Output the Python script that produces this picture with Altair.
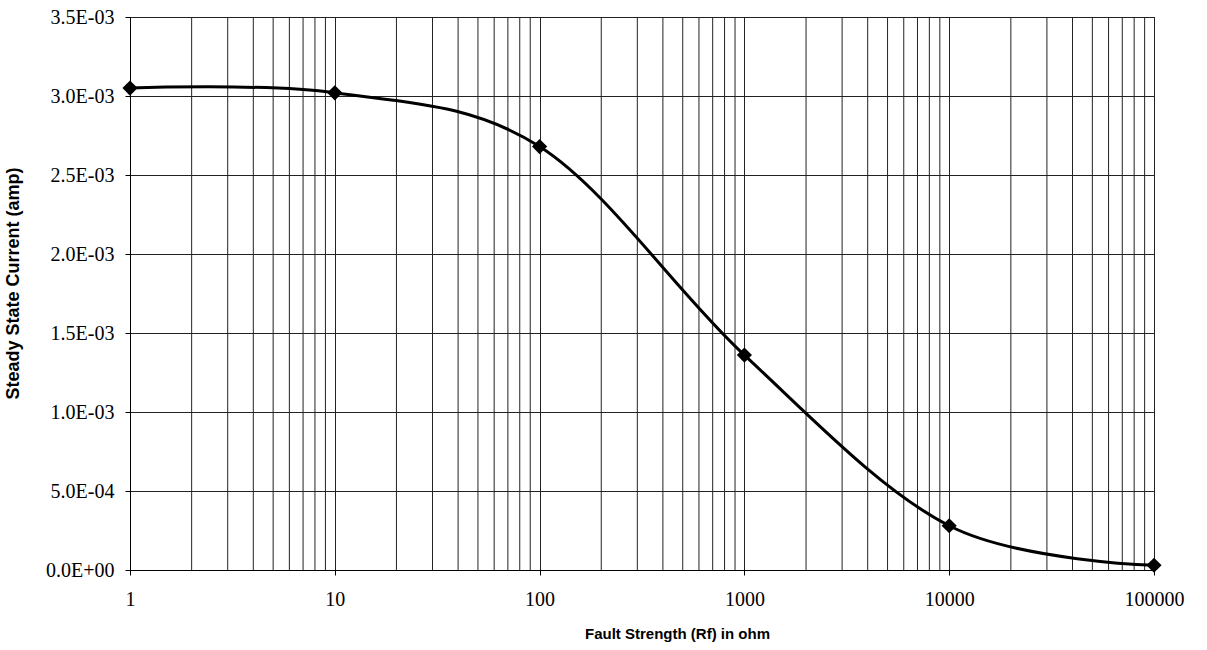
import altair as alt
import pandas as pd

# Steady-state current versus fault resistance
resistance_ohm = [1, 10, 100, 1000, 10000, 100000]
current_amp = [3.05e-3, 3.02e-3, 2.68e-3, 1.36e-3, 0.28e-3, 0.03e-3]

# Axis ticks
x_decades = [1, 10, 100, 1000, 10000, 100000]
y_ticks = [0, 0.0005, 0.001, 0.0015, 0.002, 0.0025, 0.003, 0.0035]
minor_multipliers = [2, 3, 4, 5, 6, 7, 8, 9]
minor_x = [m * d for d in x_decades[:-1] for m in minor_multipliers]

W, H = 1024, 553
GRID = "#222222"

df = pd.DataFrame({"rf": resistance_ohm, "current": current_amp})
minor_df = pd.DataFrame({"rf": minor_x})

x_scale = alt.Scale(type="log", domain=[1, 100000], nice=False)
y_scale = alt.Scale(domain=[0, 0.0035], nice=False)

# Labels in 0.0E+00 notation
exp_expr = "floor(log(datum.value) / LN10 + 1e-9)"
y_label_expr = (
    "datum.value == 0 ? '0.0E+00' : "
    f"format(datum.value / pow(10, {exp_expr}), '.1f') + 'E-' + format(-{exp_expr}, '02d')"
)

x_axis = alt.Axis(
    values=x_decades, format="d", grid=True, gridColor=GRID, gridWidth=1, gridOpacity=1,
    domainColor="black", tickColor="black", tickSize=5, labelFlush=False, labelOverlap=False,
    labelFont="Liberation Serif", labelFontSize=20, labelColor="black", labelPadding=14,
    title="Fault Strength (Rf) in ohm", titleFont="Liberation Sans", titleFontSize=15,
    titleFontWeight="bold", titleColor="black", titleX=547, titleY=68,
    titleAlign="center", titleBaseline="alphabetic",
)
y_axis = alt.Axis(
    values=y_ticks, labelExpr=y_label_expr, grid=True, gridColor=GRID, gridWidth=1, gridOpacity=1,
    domainColor="black", tickColor="black", tickSize=5,
    labelFont="Liberation Serif", labelFontSize=20, labelColor="black", labelPadding=11,
    title="Steady State Current (amp)", titleFont="Liberation Sans", titleFontSize=18,
    titleFontWeight="bold", titleColor="black", titleAngle=270, titleX=-117, titleY=266,
    titleAlign="center", titleBaseline="middle",
)

X = alt.X("rf:Q", scale=x_scale, axis=x_axis)
Y = alt.Y("current:Q", scale=y_scale, axis=y_axis)

minor_grid = alt.Chart(minor_df).mark_rule(color=GRID, strokeWidth=1).encode(x=X)

curve = alt.Chart(df).mark_line(
    interpolate="cardinal", color="black", strokeWidth=3
).encode(x=X, y=Y)

markers = alt.Chart(df).mark_point(
    shape="diamond", filled=True, size=230, color="black", opacity=1
).encode(x=X, y=Y)

chart = (
    alt.layer(minor_grid, curve, markers)
    .properties(
        width=W,
        height=H,
        padding={"left": 130, "top": 17, "right": 53, "bottom": 80},
        autosize=alt.AutoSizeParams(type="none"),
        background="white",
    )
    .configure_view(stroke="black", strokeWidth=1)
)

chart.save("out.html", embed_options={"renderer": "svg", "actions": False})
